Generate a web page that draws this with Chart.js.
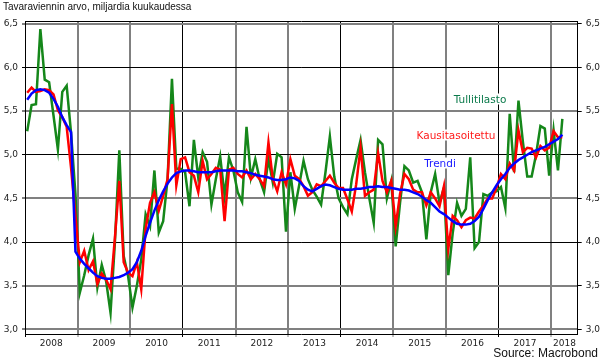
<!DOCTYPE html>
<html>
<head>
<meta charset="utf-8">
<script src="https://cdn.jsdelivr.net/npm/chart.js@4.4.0/dist/chart.umd.min.js"></script>
<style>
  body { margin: 0; background: #fff; }
  #wrap { position: relative; width: 602px; height: 363px; }
  .txt { position: absolute; white-space: nowrap; }
  #title { left: 3px; top: 2px; font: 10px/10px "Liberation Sans", Arial, sans-serif; color: #111; }
  #source { right: 4px; top: 347px; font: 12px/12px "Liberation Sans", Arial, sans-serif; color: #111; }
  .lbl { font: 10.5px/11px "DejaVu Sans", sans-serif; background: #fff; padding: 0 1px; transform: translate(-50%, -50%); }
  #lblTulli { left: 480px; top: 99px; color: #0b7a4b; }
  #lblKausi { left: 456px; top: 135px; color: #ff1a1a; }
  #lblTrend { left: 440px; top: 163px; color: #1a1aff; }
</style>
</head>
<body>
<div id="wrap">
  <canvas id="chart" width="602" height="363"></canvas>
  <div class="txt" id="title">Tavaraviennin arvo, miljardia kuukaudessa</div>
  <div class="txt lbl" id="lblTulli">Tullitilasto</div>
  <div class="txt lbl" id="lblKausi">Kausitasoitettu</div>
  <div class="txt lbl" id="lblTrend">Trendi</div>
  <div class="txt" id="source">Source: Macrobond</div>
</div>
<script>
// Monthly data, Jan 2008 - Mar 2018 (billion EUR per month)
const yearLabels = ['2008', '2009', '2010', '2011', '2012', '2013', '2014', '2015', '2016', '2017', '2018'];
const yTicks = [3.0, 3.5, 4.0, 4.5, 5.0, 5.5, 6.0, 6.5];
const monthsShown = 126; // axis runs to mid 2018

// Tullitilasto (raw customs statistics)
const tullitilasto = [
  5.27, 5.57, 5.58, 6.44, 5.86, 5.83, 5.45, 5.06, 5.72, 5.79, 5.25, 4.55,
  3.42, 3.62, 3.85, 4.04, 3.48, 3.74, 3.55, 3.19, 4.00, 5.05, 3.84, 3.61,
  3.25, 3.50, 3.80, 4.32, 4.18, 4.82, 4.11, 4.24, 4.72, 5.87, 4.84, 4.84,
  4.80, 4.41, 5.17, 4.74, 5.03, 4.92, 4.43, 4.72, 4.98, 4.53, 4.97, 4.82,
  4.57, 4.46, 5.32, 4.74, 4.95, 4.72, 4.57, 4.95, 4.68, 5.01, 4.97, 4.12,
  4.80, 4.38, 4.65, 4.93, 4.72, 4.60, 4.52, 4.43, 4.80, 5.21, 4.75, 4.50,
  4.40, 4.32, 4.72, 4.95, 5.17, 4.80, 4.50, 4.22, 5.17, 5.12, 4.50, 4.70,
  3.95, 4.45, 4.87, 4.82, 4.68, 4.70, 4.57, 4.03, 4.57, 4.78, 4.45, 4.62,
  3.62, 4.10, 4.45, 4.30, 4.38, 4.97, 3.93, 4.00, 4.55, 4.53, 4.57, 4.58,
  4.63, 4.39, 5.47, 4.80, 5.62, 5.15, 4.75, 4.75, 5.00, 5.33, 5.30, 4.76,
  5.28, 4.82, 5.41
];

// Kausitasoitettu (seasonally adjusted)
const kausitasoitettu = [
  5.71, 5.77, 5.72, 5.73, 5.75, 5.74, 5.69, 5.51, 5.43, 5.32, 4.85, 4.30,
  3.77, 3.90, 3.68, 3.78, 3.52, 3.64, 3.57, 3.46, 4.05, 4.70, 3.77, 3.65,
  3.61, 3.77, 3.46, 4.15, 4.45, 4.57, 4.36, 4.53, 4.72, 5.58, 4.65, 4.95,
  4.97, 4.80, 4.76, 4.57, 4.93, 4.72, 4.78, 4.85, 4.83, 4.24, 4.83, 4.85,
  4.78, 4.74, 4.82, 4.72, 4.78, 4.72, 4.64, 5.14, 4.72, 4.58, 4.80, 4.66,
  4.95, 4.76, 4.72, 4.64, 4.53, 4.57, 4.66, 4.64, 4.70, 4.76, 4.68, 4.62,
  4.62, 4.49, 4.35, 4.66, 5.08, 4.53, 4.57, 4.60, 5.02, 4.70, 4.57, 4.70,
  4.18, 4.55, 4.78, 4.72, 4.60, 4.57, 4.57, 4.42, 4.57, 4.50, 4.41, 4.64,
  3.92, 4.30, 4.25, 4.17, 4.25, 4.28, 4.27, 4.35, 4.42, 4.50, 4.50, 4.62,
  4.78, 4.72, 4.90, 4.82, 5.28, 5.03, 5.08, 5.07, 4.97, 5.10, 5.05, 5.08,
  5.27, 5.20, 5.20
];

// Trendi (trend)
const trendi = [
  5.63, 5.70, 5.74, 5.75, 5.74, 5.71, 5.64, 5.55, 5.43, 5.34, 5.26, 3.89,
  3.81, 3.75, 3.70, 3.65, 3.61, 3.59, 3.58, 3.58, 3.59, 3.60, 3.62, 3.65,
  3.69, 3.77, 3.90, 4.07, 4.22, 4.36, 4.48, 4.58, 4.67, 4.74, 4.79, 4.81,
  4.82, 4.82, 4.81, 4.80, 4.80, 4.80, 4.80, 4.81, 4.82, 4.82, 4.82, 4.82,
  4.81, 4.81, 4.80, 4.79, 4.77, 4.76, 4.75, 4.74, 4.72, 4.71, 4.71, 4.72,
  4.74, 4.73, 4.70, 4.64, 4.60, 4.58, 4.61, 4.64, 4.66, 4.65, 4.63, 4.61,
  4.60, 4.60, 4.60, 4.61, 4.61, 4.62, 4.63, 4.63, 4.64, 4.63, 4.63, 4.62,
  4.61, 4.60, 4.60, 4.59, 4.57, 4.55, 4.52, 4.48, 4.45, 4.40, 4.35, 4.32,
  4.28, 4.24, 4.21, 4.20, 4.20, 4.21, 4.24, 4.29, 4.38, 4.48, 4.57, 4.65,
  4.72, 4.78, 4.85, 4.90, 4.94, 4.97, 5.00, 5.03, 5.05, 5.07, 5.09, 5.12,
  5.15, 5.18, 5.23
];

// each month is plotted in the middle of its slot
function toPoints(values) {
  return values.map((v, i) => ({ x: i + 0.5, y: v }));
}

// year boundaries get grid lines, year middles get the labels
const boundaryTicks = yearLabels.map((_, k) => k * 12);
const labelTicks = yearLabels.map((_, k) => Math.min(k * 12 + 6, (k * 12 + monthsShown) / 2));

function isBoundary(v) { return v % 12 === 0; }
function xGridColor(ctx) {
  const v = ctx.tick.value;
  if (!isBoundary(v)) return 'rgba(0,0,0,0)';
  return (v / 12) % 3 === 0 ? '#000' : '#808080';
}
function xGridWidth(ctx) {
  const v = ctx.tick.value;
  if (!isBoundary(v)) return 0;
  return (v / 12) % 3 === 0 ? 1 : 2;
}
function yMajor(v) { return Number.isInteger(v) && v !== 3; }

const frame = {
  id: 'frame',
  beforeDatasetsDraw(chart) {
    const { ctx, chartArea: a } = chart;
    ctx.save();
    ctx.strokeStyle = '#000';
    ctx.lineWidth = 1;
    ctx.beginPath();
    ctx.moveTo(a.left, Math.round(a.top) + 0.5);
    ctx.lineTo(a.right, Math.round(a.top) + 0.5);
    ctx.stroke();
    ctx.restore();
  }
};

Chart.defaults.font.family = '"DejaVu Sans", sans-serif';
Chart.defaults.font.size = 9;
Chart.defaults.color = '#222';

const yTickOpts = {
  padding: 4,
  callback: v => v.toFixed(1).replace('.', ',')
};

// first dataset is drawn on top: blue over red over green
new Chart(document.getElementById('chart'), {
  type: 'line',
  data: {
    datasets: [
      { label: 'Trendi', data: toPoints(trendi), borderColor: '#0000ff', borderWidth: 2.5 },
      { label: 'Kausitasoitettu', data: toPoints(kausitasoitettu), borderColor: '#ff0000', borderWidth: 2.5 },
      { label: 'Tullitilasto', data: toPoints(tullitilasto), borderColor: '#15871a', borderWidth: 2.5 }
    ]
  },
  options: {
    responsive: false,
    animation: false,
    devicePixelRatio: 1,
    layout: { padding: { top: 21, left: 0, right: 0, bottom: 0 } },
    elements: { point: { radius: 0 }, line: { tension: 0 } },
    plugins: { legend: { display: false }, tooltip: { enabled: false } },
    scales: {
      x: {
        type: 'linear',
        min: 0,
        max: monthsShown,
        afterBuildTicks: s => { s.ticks = boundaryTicks.concat(labelTicks).sort((a, b) => a - b).map(v => ({ value: v })); },
        afterFit: s => { s.height = 29; },
        ticks: {
          autoSkip: false,
          maxRotation: 0,
          padding: 1,
          callback: v => isBoundary(v) ? '' : yearLabels[Math.floor(v / 12)]
        },
        grid: { color: xGridColor, lineWidth: xGridWidth, tickColor: xGridColor, tickLength: 3, tickWidth: 1 },
        border: { color: '#000', width: 1 }
      },
      y: {
        position: 'left',
        min: 2.947,
        max: 6.532,
        afterBuildTicks: s => { s.ticks = yTicks.map(v => ({ value: v })); },
        afterFit: s => { s.width = 25; },
        ticks: yTickOpts,
        grid: {
          color: c => yMajor(c.tick.value) ? '#000' : '#808080',
          lineWidth: c => yMajor(c.tick.value) ? 1 : 2,
          tickColor: '#000',
          tickLength: 3,
          tickWidth: 1
        },
        border: { color: '#000', width: 1 }
      },
      y2: {
        position: 'right',
        min: 2.947,
        max: 6.532,
        afterBuildTicks: s => { s.ticks = yTicks.map(v => ({ value: v })); },
        afterFit: s => { s.width = 24.3; },
        ticks: yTickOpts,
        grid: { drawOnChartArea: false, tickColor: '#000', tickLength: 4, tickWidth: 1 },
        border: { color: '#000', width: 1 }
      }
    }
  },
  plugins: [frame]
});
</script>
</body>
</html>
